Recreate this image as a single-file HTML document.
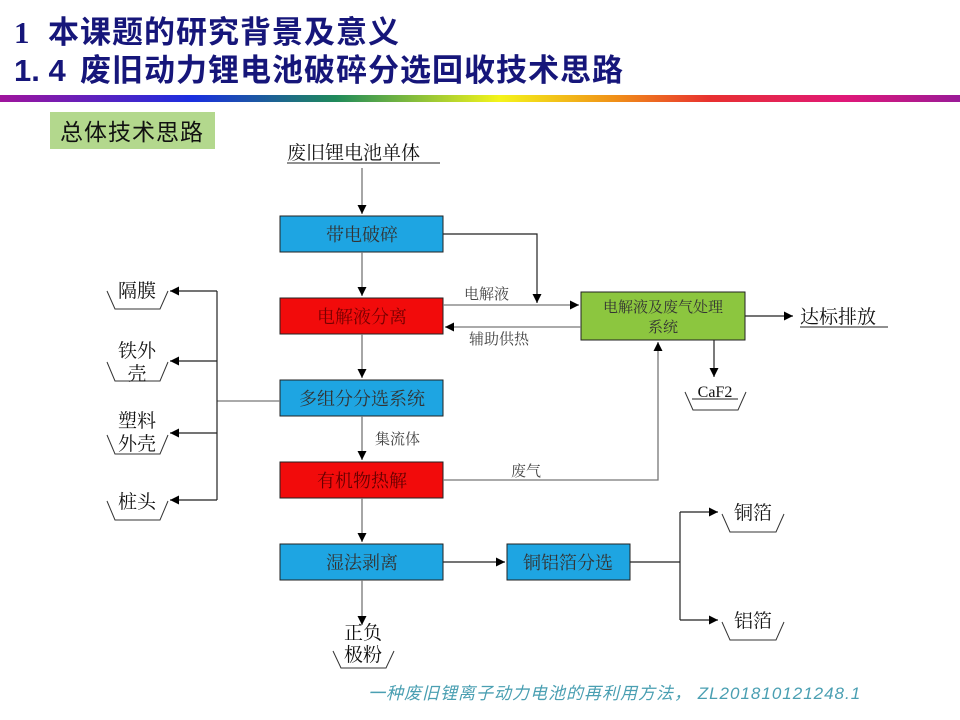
<!DOCTYPE html>
<html><head><meta charset="utf-8"><style>
body{margin:0;background:#fff;}
svg{display:block;font-family:"Liberation Serif","Noto Serif CJK SC","Noto Sans CJK SC",serif;}
.s{font-family:"Liberation Sans","Noto Sans CJK SC",sans-serif;}
</style></head><body>
<svg width="960" height="720" viewBox="0 0 960 720" xmlns="http://www.w3.org/2000/svg">
<defs>
<linearGradient id="bar" x1="0" x2="1">
<stop offset="0" stop-color="#a0149c"/><stop offset="0.2" stop-color="#1a2ee0"/><stop offset="0.35" stop-color="#1f8a5a"/><stop offset="0.52" stop-color="#f4f41a"/><stop offset="0.64" stop-color="#f09018"/><stop offset="0.74" stop-color="#e83030"/><stop offset="0.88" stop-color="#e01878"/><stop offset="1" stop-color="#9a1a98"/>
</linearGradient>
<marker id="a" viewBox="0 0 10 10" refX="10" refY="5" markerWidth="9" markerHeight="9" markerUnits="userSpaceOnUse" orient="auto"><path d="M0,0L10,5L0,10z" fill="#000"/></marker>
</defs>
<text x="14" y="43" font-size="31" font-weight="bold" fill="#16167a" font-family="Liberation Serif,serif">1</text>
<text x="48" y="43" font-size="31" font-weight="bold" fill="#16167a" class="s" letter-spacing="1">本课题的研究背景及意义</text>
<text x="14" y="81" font-size="31" font-weight="bold" fill="#16167a" class="s">1. 4</text>
<text x="80" y="81" font-size="31" font-weight="bold" fill="#16167a" class="s" letter-spacing="1">废旧动力锂电池破碎分选回收技术思路</text>
<rect x="0" y="95" width="960" height="7" fill="url(#bar)"/>
<rect x="50" y="112" width="165" height="37" fill="#b3d88d"/>
<text x="60" y="140" font-size="23" fill="#111" class="s" letter-spacing="1">总体技术思路</text>
<text x="287" y="159" font-size="19" fill="#111">废旧锂电池单体</text>
<line x1="287" y1="163" x2="440" y2="163" stroke="#222" stroke-width="1"/>

<g stroke="#222" stroke-width="1">
<rect x="280" y="216" width="163" height="36" fill="#1ea5e2"/>
<rect x="280" y="298" width="163" height="36" fill="#f20b0b"/>
<rect x="280" y="380" width="163" height="36" fill="#1ea5e2"/>
<rect x="280" y="462" width="163" height="36" fill="#f20b0b"/>
<rect x="280" y="544" width="163" height="36" fill="#1ea5e2"/>
<rect x="507" y="544" width="123" height="36" fill="#1ea5e2"/>
<rect x="581" y="292" width="164" height="48" fill="#8cc63f"/>
</g>
<g font-size="18" fill="#333" text-anchor="middle">
<text x="362" y="241">带电破碎</text>
<text x="362" y="323" fill="#700">电解液分离</text>
<text x="362" y="405">多组分分选系统</text>
<text x="362" y="487" fill="#600">有机物热解</text>
<text x="362" y="569">湿法剥离</text>
<text x="568" y="569">铜铝箔分选</text>
<text x="663" y="312" font-size="15">电解液及废气处理</text>
<text x="663" y="332" font-size="15">系统</text>
</g>

<g stroke="#777" stroke-width="1.3" fill="none">
<line x1="362" y1="168" x2="362" y2="214" marker-end="url(#a)"/>
<line x1="362" y1="252" x2="362" y2="296" marker-end="url(#a)"/>
<line x1="362" y1="334" x2="362" y2="378" marker-end="url(#a)"/>
<line x1="362" y1="416" x2="362" y2="460" marker-end="url(#a)"/>
<line x1="362" y1="498" x2="362" y2="542" marker-end="url(#a)"/>
<line x1="362" y1="580" x2="362" y2="625" marker-end="url(#a)"/>
<line x1="443" y1="305" x2="579" y2="305" marker-end="url(#a)"/>
<line x1="581" y1="327" x2="445" y2="327" marker-end="url(#a)"/>
<polyline points="443,480 658,480 658,342" marker-end="url(#a)"/>
<line x1="280" y1="401" x2="217" y2="401"/>
</g>
<g stroke="#222" stroke-width="1.2" fill="none">
<polyline points="443,234 537,234 537,303" marker-end="url(#a)"/>
<line x1="217" y1="291" x2="217" y2="500"/>
<line x1="217" y1="291" x2="170" y2="291" marker-end="url(#a)"/>
<line x1="217" y1="361" x2="170" y2="361" marker-end="url(#a)"/>
<line x1="217" y1="433" x2="170" y2="433" marker-end="url(#a)"/>
<line x1="217" y1="500" x2="170" y2="500" marker-end="url(#a)"/>
<line x1="745" y1="316" x2="793" y2="316" marker-end="url(#a)"/>
<line x1="714" y1="340" x2="714" y2="377" marker-end="url(#a)"/>
<line x1="443" y1="562" x2="505" y2="562" marker-end="url(#a)"/>
<line x1="630" y1="562" x2="680" y2="562"/>
<line x1="680" y1="512" x2="680" y2="620"/>
<line x1="680" y1="512" x2="718" y2="512" marker-end="url(#a)"/>
<line x1="680" y1="620" x2="718" y2="620" marker-end="url(#a)"/>
</g>
<g font-size="15" fill="#444">
<text x="464" y="299">电解液</text>
<text x="469" y="344">辅助供热</text>
<text x="375" y="444">集流体</text>
<text x="511" y="476">废气</text>
</g>
<text x="800" y="323" font-size="19" fill="#111">达标排放</text>
<line x1="800" y1="327" x2="888" y2="327" stroke="#222"/>

<g stroke="#333" stroke-width="1" fill="none">
<path d="M107,291 L115,309 L160,309 L168,291"/>
<path d="M107,362 L115,381 L160,381 L168,362"/>
<path d="M107,435 L115,454 L160,454 L168,435"/>
<path d="M107,501 L115,520 L160,520 L168,501"/>
<path d="M685,392 L693,410 L738,410 L746,392"/>
<path d="M333,651 L341,668 L386,668 L394,651"/>
<path d="M722,514 L730,532 L776,532 L784,514"/>
<path d="M722,622 L730,640 L776,640 L784,622"/>
</g>
<g font-size="19" fill="#111" text-anchor="middle">
<text x="137" y="297">隔膜</text>
<text x="137" y="357">铁外</text><text x="137" y="380">壳</text>
<text x="137" y="427">塑料</text><text x="137" y="450">外壳</text>
<text x="137" y="508">桩头</text>
<text x="715" y="397" font-size="16">CaF2</text>
<text x="363" y="639">正负</text><text x="363" y="661">极粉</text>
<text x="753" y="519">铜箔</text>
<text x="753" y="627">铝箔</text>
</g>
<line x1="692" y1="399" x2="738" y2="399" stroke="#222"/>
<text x="368" y="699" font-size="17" font-style="italic" fill="#4a9fb2" class="s" letter-spacing="1">一种废旧锂离子动力电池的再利用方法，  ZL201810121248.1</text>
</svg>
</body></html>
